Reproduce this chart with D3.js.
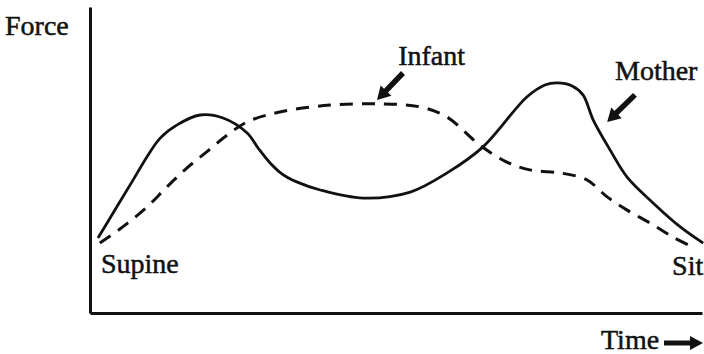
<!DOCTYPE html>
<html>
<head>
<meta charset="utf-8">
<script src="https://cdn.jsdelivr.net/npm/d3@7"></script>
<style>
  html, body { margin: 0; padding: 0; background: #fff; font-family: "Liberation Serif", serif; }
  .lbl { font-family: "Liberation Serif", serif !important; }
  #warm { position: absolute; left: -1000px; top: 0; font-size: 28px; }
</style>
</head>
<body>
<div id="warm">Force Time Infant Mother Supine Sit</div>
<div id="chart"></div>
<script>
// time (0-100) and force (0-100)
const motherTime  = [0, 3.1, 5.8, 8.1, 10.3, 13.1, 16.9, 20.7, 24.7, 26.5, 28.5, 30.5, 32.9, 36.8, 43.9, 51.7, 57.8, 63.7, 71, 74, 76, 78.5, 80.3, 82, 84.8, 87.6, 91.9, 96.4, 100.2];
const motherForce = [25, 35.3, 44.3, 52, 58.3, 62.7, 66, 65, 60, 55, 50, 46.3, 43.7, 41, 38.3, 40.3, 46.7, 55.3, 72, 76, 76.7, 75.7, 72.7, 64.3, 54.3, 45.3, 36.7, 28.7, 23.3];
const infantTime  = [0.3, 4.1, 8.1, 11.4, 14.7, 18, 21.4, 24.7, 30.1, 38.4, 46.7, 53.3, 57.8, 63.2, 67.7, 71.5, 76.5, 80.3, 81.5, 84.3, 87.6, 91.4, 95.2, 98.5];
const infantForce = [23.3, 28.7, 35.3, 42, 48.3, 53.7, 59.3, 63.7, 67, 69.3, 69.7, 68.7, 65.3, 56, 50.3, 47.7, 46.7, 45, 43.7, 38.7, 34.3, 30, 25.3, 22];

const labelNames = ["Infant", "Mother", "Supine", "Sit"];
const labelTime  = [49.7, 85.6, 0.5, 100.2];
const labelForce = [82.7, 77.7, 13.3, 12.7];

// pointer arrows: tail -> tip
const pointerFrom = [[50.5, 80], [88.9, 72.7]];
const pointerTo   = [[46.2, 71], [84.3, 63.7]];

const width = 704, height = 354;
const labelFont = '"Liberation Serif", serif';

const x = d3.scaleLinear().domain([-1.32, 100]).range([90, 702]);
const y = d3.scaleLinear().domain([0, 102]).range([313, 7]);

const svg = d3.select("#chart").append("svg")
  .attr("width", width)
  .attr("height", height)
  .attr("viewBox", `0 0 ${width} ${height}`)
  .style("font-family", labelFont);

// axes, no ticks
svg.append("g")
  .attr("transform", `translate(${x.range()[0]},0)`)
  .call(d3.axisLeft(y).tickValues([]).tickSizeOuter(0))
  .select(".domain").attr("stroke", "#111").attr("stroke-width", 3);

svg.append("g")
  .attr("transform", `translate(0,${y.range()[0]})`)
  .call(d3.axisBottom(x).tickValues([]).tickSizeOuter(0))
  .select(".domain").attr("stroke", "#111").attr("stroke-width", 3);

const line = d3.line()
  .x(d => x(d[0]))
  .y(d => y(d[1]))
  .curve(d3.curveCatmullRom.alpha(0.5));

svg.append("path")
  .datum(d3.zip(infantTime, infantForce))
  .attr("fill", "none")
  .attr("stroke", "#111")
  .attr("stroke-width", 3)
  .attr("stroke-dasharray", "13 9")
  .attr("d", line);

svg.append("path")
  .datum(d3.zip(motherTime, motherForce))
  .attr("fill", "none")
  .attr("stroke", "#111")
  .attr("stroke-width", 2.8)
  .attr("d", line);

function styleText(sel) {
  return sel
    .attr("class", "lbl")
    .attr("font-family", "Liberation Serif")
    .style("font-family", labelFont)
    .attr("font-size", 28)
    .attr("fill", "#111")
    .attr("stroke", "#111")
    .attr("stroke-width", 0.5);
}

// labels
svg.append("g").selectAll("text")
  .data(labelNames)
  .join("text")
  .attr("x", (d, i) => x(labelTime[i]))
  .attr("y", (d, i) => y(labelForce[i]))
  .attr("text-anchor", d => d === "Sit" ? "end" : "start")
  .call(styleText)
  .text(d => d);

svg.append("text")
  .attr("x", 5).attr("y", 35)
  .call(styleText)
  .text("Force");

svg.append("text")
  .attr("x", 601).attr("y", 349)
  .call(styleText)
  .text("Time");

// thick arrows
function drawArrow(x1, y1, x2, y2, shaft, headLen, headWidth) {
  const dx = x2 - x1, dy = y2 - y1;
  const len = Math.hypot(dx, dy);
  const ux = dx / len, uy = dy / len;
  const px = -uy, py = ux;
  const bx = x2 - ux * headLen, by = y2 - uy * headLen;
  svg.append("line")
    .attr("x1", x1).attr("y1", y1)
    .attr("x2", bx + ux).attr("y2", by + uy)
    .attr("stroke", "#111")
    .attr("stroke-width", shaft);
  svg.append("path")
    .attr("d", `M${x2},${y2}L${bx + px * headWidth / 2},${by + py * headWidth / 2}L${bx - px * headWidth / 2},${by - py * headWidth / 2}Z`)
    .attr("fill", "#111");
}

pointerFrom.forEach((from, i) => {
  drawArrow(x(from[0]), y(from[1]), x(pointerTo[i][0]), y(pointerTo[i][1]), 5.5, 13, 15);
});

drawArrow(664, 343, 703, 343, 5, 13, 14);

// make sure the serif face is used once it is ready
if (document.fonts && document.fonts.load) {
  document.fonts.load('28px "Liberation Serif"').then(() => {
    svg.selectAll("text.lbl").style("font-family", labelFont);
  });
}
</script>
</body>
</html>
